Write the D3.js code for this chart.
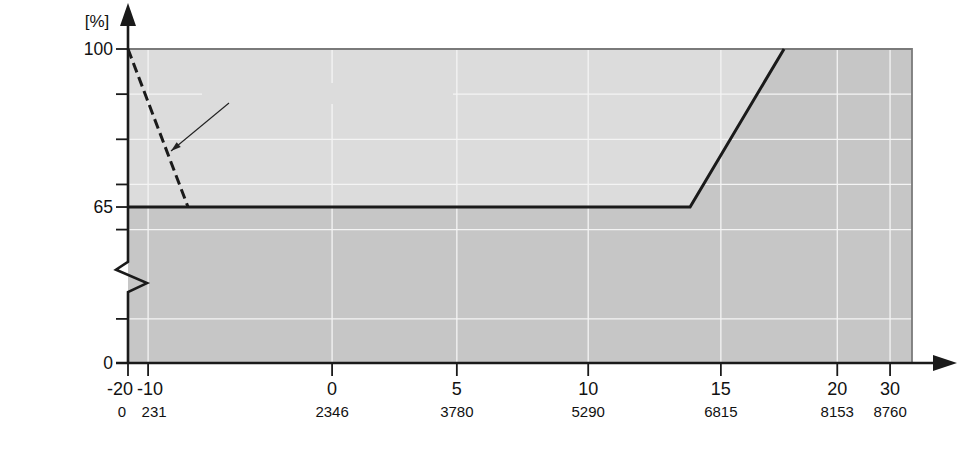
<!DOCTYPE html>
<html>
<head>
<meta charset="utf-8">
<script src="https://cdn.jsdelivr.net/npm/d3@7"></script>
<style>
  html, body { margin: 0; padding: 0; background: #fff; }
  svg { display: block; font-family: "Liberation Sans", Arial, Helvetica, sans-serif; }
</style>
</head>
<body>
<svg id="chart" width="958" height="475"></svg>
<script>
// ---- data ----
const tickHours = [0, 231, 2346, 3780, 5290, 6815, 8153, 8760];
const tickTemps = ["-20", "-10", "0", "5", "10", "15", "20", "30"];
const yTickValues = [0, 10, 60, 65, 70, 80, 90, 100];
const yTickLabels = ["0", "", "", "65", "", "", "", "100"];
const yGridValues = [10, 60, 70, 80, 90];
const solidHours = [0, 6461, 7541];
const solidPct = [65, 65, 100];
const dashedHours = [0, 690];
const dashedPct = [100, 65];
const xAxisEnd = 9012;   // right edge of plot area in hours
const yBreak = [25, 42]; // axis break span (values)
const unitLabel = "[%]";

(function () {
// ---- layout ----
const svg = d3.select("#chart");
const pLeft = 128, pRight = 912, pTop = 49, pBottom = 363;
const x = d3.scaleLinear().domain([0, xAxisEnd]).range([pLeft, pRight]);
const y = d3.scaleLinear().domain([0, 10, 60, 100]).range([pBottom, 318.9, 229.6, pTop]);

const LIGHT = "#dcdcdc", DARK = "#c6c6c6", INK = "#1a1a1a";

// plot background (dark)
svg.append("rect").attr("x", pLeft).attr("y", pTop)
  .attr("width", pRight - pLeft).attr("height", pBottom - pTop).attr("fill", DARK);

// light region above the curve
const lightPts = [[0, 100]].concat(solidHours.map((h, i) => [h, solidPct[i]]));
svg.append("path")
  .attr("d", d3.line().x(d => x(d[0])).y(d => y(d[1]))(lightPts) + "Z")
  .attr("fill", LIGHT);

// gridlines
const grid = svg.append("g").attr("stroke", "#f4f4f4").attr("stroke-width", 1.3);
grid.selectAll("line.h").data(yGridValues).join("line")
  .attr("x1", pLeft).attr("x2", pRight)
  .attr("y1", d => y(d)).attr("y2", d => y(d));
grid.selectAll("line.v").data(tickHours.slice(1)).join("line")
  .attr("x1", d => x(d)).attr("x2", d => x(d))
  .attr("y1", pTop).attr("y2", pBottom);

// erased annotation area
svg.append("rect").attr("x", 202).attr("y", 83).attr("width", 251).attr("height", 21)
  .attr("fill", LIGHT);

// plot border (top & right)
svg.append("path")
  .attr("d", `M${pLeft},${pTop}H${pRight}V${pBottom}`)
  .attr("fill", "none").attr("stroke", "#7a7a7a").attr("stroke-width", 1.8);

// data lines
const line = d3.line().x(d => x(d[0])).y(d => y(d[1]));
svg.append("path")
  .attr("d", line(solidHours.map((h, i) => [h, solidPct[i]])))
  .attr("fill", "none").attr("stroke", INK).attr("stroke-width", 3)
  .attr("stroke-linejoin", "miter");
svg.append("path")
  .attr("d", line(dashedHours.map((h, i) => [h, dashedPct[i]])))
  .attr("fill", "none").attr("stroke", INK).attr("stroke-width", 3)
  .attr("stroke-dasharray", "10,5");

// annotation arrow
const ax0 = 229, ay0 = 103, ax1 = 171, ay1 = 151;
svg.append("line").attr("x1", ax0).attr("y1", ay0).attr("x2", ax1).attr("y2", ay1)
  .attr("stroke", "#222").attr("stroke-width", 1.1);
{
  const ang = Math.atan2(ay1 - ay0, ax1 - ax0), L = 10, W = 3.2;
  const bx = ax1 - L * Math.cos(ang), by = ay1 - L * Math.sin(ang);
  const px = -Math.sin(ang) * W, py = Math.cos(ang) * W;
  svg.append("path")
    .attr("d", `M${ax1},${ay1}L${bx + px},${by + py}L${bx - px},${by - py}Z`)
    .attr("fill", "#222");
}

// ---- axes ----
const axes = svg.append("g").attr("stroke", INK).attr("stroke-width", 2.6).attr("fill", "none");
// y axis with break
const yb0 = y(yBreak[1]), yb1 = y(yBreak[0]);
axes.append("path")
  .attr("d", `M${pLeft},${pBottom}V${yb1}L${pLeft + 19},${yb1 - 9}L${pLeft - 12},${yb0 + 8}L${pLeft},${yb0}V20`);
// x axis
axes.append("path").attr("d", `M${pLeft - 12},${pBottom}H935`);
// arrowheads
svg.append("path").attr("d", `M${pLeft},3L${pLeft + 8},26L${pLeft - 8},26Z`).attr("fill", INK);
svg.append("path").attr("d", `M957,${pBottom}L933,${pBottom - 8}L933,${pBottom + 8}Z`).attr("fill", INK);

// y ticks
axes.selectAll("line.yt").data(yTickValues).join("line")
  .attr("x1", pLeft - 12).attr("x2", pLeft)
  .attr("y1", d => y(d)).attr("y2", d => y(d)).attr("stroke-width", 1.8);
svg.selectAll("text.yl").data(yTickValues).join("text")
  .attr("x", 113).attr("y", d => y(d)).attr("dy", "0.36em")
  .attr("text-anchor", "end").attr("font-size", 17.5).attr("fill", "#111")
  .text((d, i) => yTickLabels[i]);
svg.append("text").attr("x", 97).attr("y", 27).attr("text-anchor", "middle")
  .attr("font-size", 17).attr("fill", "#111").text(unitLabel);

// x ticks
axes.selectAll("line.xt").data(tickHours).join("line")
  .attr("x1", d => x(d)).attr("x2", d => x(d))
  .attr("y1", pBottom).attr("y2", pBottom + 13).attr("stroke-width", 1.8);
const tempDx = i => i === 0 ? -8 : (i === 1 ? 2 : 0);
const hourDx = i => i === 0 ? -6 : (i === 1 ? 6 : 0);
svg.selectAll("text.xt").data(tickHours).join("text")
  .attr("x", (d, i) => x(d) + tempDx(i)).attr("y", 395)
  .attr("text-anchor", "middle").attr("font-size", 18).attr("fill", "#111")
  .text((d, i) => tickTemps[i]);
svg.selectAll("text.xh").data(tickHours).join("text")
  .attr("x", (d, i) => x(d) + hourDx(i)).attr("y", 417)
  .attr("text-anchor", "middle").attr("font-size", 15).attr("fill", "#111")
  .text(d => d);
})();
</script>
</body>
</html>
